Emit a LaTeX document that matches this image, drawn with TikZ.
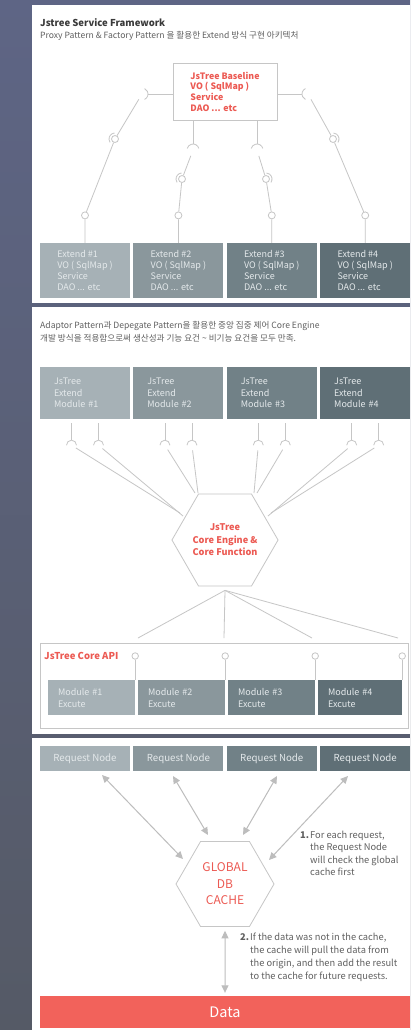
\documentclass[tikz,border=0pt]{standalone}
\usepackage{fontspec}
\setmainfont{Noto Sans CJK KR}
\usetikzlibrary{positioning,calc,arrows.meta,shapes.geometric}

\definecolor{bgtop}{HTML}{5E6585}
\definecolor{bgbot}{HTML}{555A66}
\definecolor{wirecol}{HTML}{C6C6C6}
\definecolor{arrcol}{HTML}{BDBDBD}
\definecolor{redtxt}{HTML}{EC5A53}
\definecolor{datared}{HTML}{F2625B}
\definecolor{tone1}{HTML}{A6B1B6}
\definecolor{tone2}{HTML}{8A979C}
\definecolor{tone3}{HTML}{718187}
\definecolor{tone4}{HTML}{5F6F76}
\definecolor{boxtxt}{HTML}{E4E9EB}
\definecolor{darktxt}{HTML}{3A3A3A}
\definecolor{greytxt}{HTML}{606060}

\tikzset{
  wire/.style={draw=wirecol, line width=0.8pt},
  arr/.style={draw=arrcol, line width=1pt, {Triangle[length=7.5pt,width=7pt]}-{Triangle[length=7.5pt,width=7pt]}},
  ball/.style={circle, draw=wirecol, fill=white, line width=0.8pt, inner sep=0pt, minimum size=7pt},
  sockpt/.style={circle, inner sep=0pt, minimum size=12pt},
  cup/.style={circle, inner sep=0pt, minimum size=10pt},
  head/.style={anchor=west, inner sep=0pt, text=darktxt, font=\bfseries\fontsize{9.5}{11}\selectfont},
  subline/.style={anchor=west, inner sep=0pt, text=greytxt, font=\fontsize{8.6}{10}\selectfont},
  note/.style={anchor=north west, inner sep=0pt, align=left, text=greytxt},
  basebox/.style={draw=wirecol, line width=0.8pt, minimum width=104pt, minimum height=57pt,
    inner sep=0pt, align=left, text=redtxt, font=\bfseries\fontsize{8.8}{10.7}\selectfont},
  tonebox/.style={inner sep=0pt, text=boxtxt},
  extbox/.style={tonebox, minimum width=90pt, minimum height=55pt, align=left,
    font=\fontsize{9}{11}\selectfont},
  modbox/.style={tonebox, minimum height=52pt, text width=62pt, inner xsep=14pt, align=left,
    font=\fontsize{9}{11.5}\selectfont},
  xbox/.style={tonebox, minimum height=35pt, text width=67pt, inner xsep=10pt, align=left,
    font=\fontsize{9}{12}\selectfont},
  reqbox/.style={tonebox, minimum width=90pt, minimum height=25pt, font=\fontsize{9.7}{11}\selectfont},
  hexa/.style={regular polygon, regular polygon sides=6, minimum size=98pt, inner sep=0pt,
    draw=wirecol, line width=0.8pt, align=center, text=redtxt}
}

\begin{document}
\begin{tikzpicture}[x=1pt,y=1pt]
  \useasboundingbox (0,0) rectangle (410,-1030);
  \shade[top color=bgtop, bottom color=bgbot] (0,0) rectangle (410,-1030);
  \fill[white] (32,-5) rectangle (410,-303);
  \fill[white] (32,-307) rectangle (410,-734);
  \fill[white] (32,-738) rectangle (410,-1030);

  \node[head] (ttl) at (40,-23) {Jstree Service Framework};
  \node[subline] (sub1) at (40,-36) {Proxy Pattern \& Factory Pattern 을 활용한 Extend 방식 구현 아키텍처};
  \node[basebox] (base) at (225,-91.5) {JsTree Baseline\\VO ( SqlMap )\\Service\\DAO ... etc};

  \node[extbox, fill=tone1] (ext1) at (85,-270.5) {Extend \#1\\VO ( SqlMap )\\Service\\DAO ... etc};
  \node[extbox, fill=tone2, right=3pt of ext1] (ext2) {Extend \#2\\VO ( SqlMap )\\Service\\DAO ... etc};
  \node[extbox, fill=tone3, right=3pt of ext2] (ext3) {Extend \#3\\VO ( SqlMap )\\Service\\DAO ... etc};
  \node[extbox, fill=tone4, right=3pt of ext3] (ext4) {Extend \#4\\VO ( SqlMap )\\Service\\DAO ... etc};

  \node[sockpt] (s1) at (142,-94) {};
  \node[sockpt] (s2) at (193,-150) {};
  \node[sockpt] (s3) at (257,-150) {};
  \node[sockpt] (s4) at (308,-94) {};
  \node[ball] (bs1) at (115,-139) {};
  \node[ball] (bs2) at (182,-179) {};
  \node[ball] (bs3) at (266,-179) {};
  \node[ball] (bs4) at (333,-139) {};
  \foreach \i in {1,...,4}
    \node[ball, above=23.5pt of ext\i] (b\i) {};

  \draw[wire] ([shift={(-65:6)}]s1.center) arc[start angle=-65, end angle=65, radius=6];
  \draw[wire] ([shift={(115:6)}]s4.center) arc[start angle=115, end angle=245, radius=6];
  \draw[wire] ([shift={(15:6)}]s2.center) arc[start angle=15, end angle=165, radius=6];
  \draw[wire] ([shift={(15:6)}]s3.center) arc[start angle=15, end angle=165, radius=6];
  \draw[wire] ([shift={(95:6)}]bs1.center) arc[start angle=95, end angle=215, radius=6];
  \draw[wire] ([shift={(95:6)}]bs2.center) arc[start angle=95, end angle=215, radius=6];
  \draw[wire] ([shift={(-35:6)}]bs3.center) arc[start angle=-35, end angle=85, radius=6];
  \draw[wire] ([shift={(-35:6)}]bs4.center) arc[start angle=-35, end angle=85, radius=6];

  \draw[wire] (base.west |- s1) -- (s1);
  \draw[wire] (base.east |- s4) -- (s4);
  \draw[wire] (base.south -| s2) -- (s2);
  \draw[wire] (base.south -| s3) -- (s3);
  \foreach \i in {1,...,4}
    \draw[wire] (s\i) -- (bs\i) -- (b\i) -- (ext\i);

  \node[subline] (sub2) at (40,-326) {Adaptor Pattern과 Depegate Pattern을 활용한 중앙 집중 제어 Core Engine};
  \node[subline] (sub3) at (40,-338) {개발 방식을 적용함으로써 생산성과 기능 요건 \textasciitilde{} 비기능 요건을 모두 만족.};

  \node[modbox, fill=tone1] (m1) at (85,-393) {JsTree\\Extend\\Module \#1};
  \node[modbox, fill=tone2, right=3pt of m1] (m2) {JsTree\\Extend\\Module \#2};
  \node[modbox, fill=tone3, right=3pt of m2] (m3) {JsTree\\Extend\\Module \#3};
  \node[modbox, fill=tone4, right=3pt of m3] (m4) {JsTree\\Extend\\Module \#4};

  \node[hexa, font=\bfseries\fontsize{9.2}{12.5}\selectfont] (core) at (225,-540) {JsTree\\Core Engine \&\\Core Function};

  \coordinate (ea1) at (180,-513);
  \coordinate (eb1) at (183,-516);
  \coordinate (ea2) at (195,-493);
  \coordinate (eb2) at (198,-493);
  \coordinate (ea3) at (254,-493);
  \coordinate (eb3) at (257,-493);
  \coordinate (ea4) at (268,-516);
  \coordinate (eb4) at (271,-513);
  \foreach \i in {1,...,4} {
    \node[cup] (ua\i) at ($(m\i.south)+(-13.5,-26)$) {};
    \node[cup] (ub\i) at ($(m\i.south)+(13.5,-26)$) {};
    \draw[wire] ([shift={(0:5)}]ua\i.center) arc[start angle=0, end angle=180, radius=5];
    \draw[wire] ([shift={(0:5)}]ub\i.center) arc[start angle=0, end angle=180, radius=5];
    \draw[wire, shorten <=4pt] (m\i.south -| ua\i) -- (ua\i);
    \draw[wire, shorten <=4pt] (m\i.south -| ub\i) -- (ub\i);
    \draw[wire] (ua\i) -- (ea\i);
    \draw[wire] (ub\i) -- (eb\i);
  }

  \coordinate[below=4pt of core] (hub);
  \coordinate (f1) at (138,-638);
  \coordinate (f2) at (224,-638);
  \coordinate (f3) at (312,-638);
  \coordinate (f4) at (398,-638);
  \foreach \i in {1,...,4}
    \draw[wire] (hub) -- (f\i);

  \node[draw=wirecol, line width=0.8pt, minimum width=368pt, minimum height=85pt] (api) at (224,-685.5) {};
  \node[anchor=west, inner sep=0pt, text=redtxt, font=\bfseries\fontsize{9.5}{10}\selectfont] (apit) at (44,-656) {JsTree Core API};

  \node[xbox, fill=tone1] (x1) at (91.5,-697.5) {Module \#1\\Excute};
  \node[xbox, fill=tone2] (x2) at (181.5,-697.5) {Module \#2\\Excute};
  \node[xbox, fill=tone3] (x3) at (271.5,-697.5) {Module \#3\\Excute};
  \node[xbox, fill=tone4, text width=64pt] (x4) at (360,-697.5) {Module \#4\\Excute};
  \foreach \i in {1,...,4} {
    \node[ball, minimum size=6.5pt] (k\i) at (x\i.north east |- apit.west) {};
    \draw[wire] (k\i) -- (k\i |- x\i.north);
  }

  \node[reqbox, fill=tone1] (q1) at (85,-758.5) {Request Node};
  \node[reqbox, fill=tone2, right=3pt of q1] (q2) {Request Node};
  \node[reqbox, fill=tone3, right=3pt of q2] (q3) {Request Node};
  \node[reqbox, fill=tone4, right=3pt of q3] (q4) {Request Node};

  \node[hexa, font=\fontsize{12}{16.5}\selectfont] (cache) at (225,-884) {GLOBAL\\DB\\CACHE};

  \coordinate (qa1) at (102,-775);
  \coordinate (qa2) at (173,-776);
  \coordinate (qa3) at (277,-776);
  \coordinate (qa4) at (348,-776);
  \coordinate (ca1) at (183,-859);
  \coordinate (ca2) at (208,-835);
  \coordinate (ca3) at (243,-835);
  \coordinate (ca4) at (269,-860);
  \foreach \i in {1,...,4}
    \draw[arr] (qa\i) -- (ca\i);

  \node[note, font=\fontsize{9.3}{12.2}\selectfont] (n1) at (300,-831)
    {\makebox[10pt][l]{\textbf{1.}}For each request,\\\hspace*{10pt}the Request Node\\\hspace*{10pt}will check the global\\\hspace*{10pt}cache first};

  \node[minimum width=370pt, minimum height=32pt, inner sep=0pt, fill=datared, text=white,
    font=\fontsize{14.5}{16}\selectfont] (data) at (225,-1012) {Data};
  \draw[arr] ([yshift=-4pt]cache.south) -- ([yshift=3pt]data.north);

  \node[note, font=\fontsize{9.3}{12.8}\selectfont] (n2) at (240,-933)
    {\makebox[10pt][l]{\textbf{2.}}If the data was not in the cache,\\\hspace*{10pt}the cache will pull the data from\\\hspace*{10pt}the origin, and then add the result\\\hspace*{10pt}to the cache for future requests.};
\end{tikzpicture}
\end{document}
